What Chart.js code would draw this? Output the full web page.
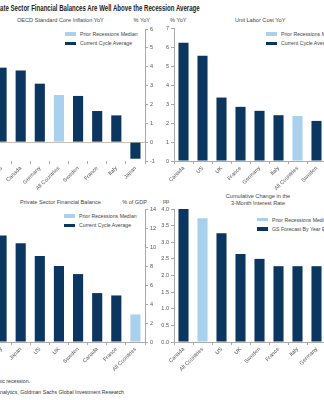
<!DOCTYPE html>
<html>
<head>
<meta charset="utf-8">
<script src="https://cdn.jsdelivr.net/npm/chart.js@4"></script>
<style>
body{margin:0;width:324px;height:400px;overflow:hidden;position:relative;background:#fff;font-family:"Liberation Sans",Arial,sans-serif;color:#333}
canvas{position:absolute}
.t{position:absolute;white-space:nowrap;font-size:5.6px;line-height:6.5px;color:#444}
.lg{position:absolute;white-space:nowrap;font-size:5.2px;line-height:6px;color:#444}
.title{position:absolute;white-space:nowrap;font-family:"Liberation Sans",Arial,sans-serif;font-weight:bold;font-size:9px;line-height:10px;color:#222;transform:scaleX(0.675);transform-origin:right center}
.box{position:absolute;width:11px;height:3.5px}
.foot{position:absolute;white-space:nowrap;font-size:5.2px;line-height:6px;color:#333}
</style>
</head>
<body>

<div class="title" style="right:124px;top:3px">Private Sector Financial Balances Are Well Above the Recession Average</div>

<div class="t" style="left:17px;top:17px">OECD Standard Core Inflation YoY</div>
<div class="t" style="right:174px;top:17px">% YoY</div>
<div class="t" style="left:170px;top:17px">% YoY</div>
<div class="t" style="left:235px;top:17px">Unit Labor Cost YoY</div>
<div class="t" style="left:20px;top:198.5px">Private Sector Financial Balance</div>
<div class="t" style="right:177px;top:198.5px">% of GDP</div>
<div class="t" style="left:217px;top:193px;width:82px;text-align:center">Cumulative Change in the<br>3-Month Interest Rate</div>
<div class="t" style="left:163px;top:198px">pp</div>

<div id="legA"></div>
<div id="legB"></div>
<div id="legC"></div>
<div id="legD"></div>

<canvas id="chartA" width="205" height="171" style="left:-40px;top:20px"></canvas>
<canvas id="chartB" width="206" height="172" style="left:150px;top:19px"></canvas>
<canvas id="chartC" width="205" height="172" style="left:-40px;top:200px"></canvas>
<canvas id="chartD" width="206" height="172" style="left:150px;top:200px"></canvas>

<div class="foot" style="right:294px;top:378px">economic recession.</div>
<div class="foot" style="right:200px;top:389px">Source: Haver Analytics, Goldman Sachs Global Investment Research</div>

<script>
var darkBlue = "#0b3660";
var lightBlue = "#a9d0ec";
var priorName = "Prior Recessions Median";

// core inflation
var inflLabels = ["US","Canada","Germany","All Countries","Sweden","France","Italy","Japan"];
var inflPrior = [null,null,null,2.5,null,null,null,null];
var inflCurrent = [3.95,3.8,3.1,null,2.45,1.65,1.42,-0.88];

// unit labor cost
var ulcLabels = ["Canada","US","UK","France","Germany","Italy","All Countries","Sweden"];
var ulcPrior = [null,null,null,null,null,null,2.37,null];
var ulcCurrent = [6.22,5.54,3.34,2.85,2.64,2.41,null,2.11];

// private sector financial balance
var pfbLabels = ["Italy","Japan","US","UK","Sweden","Canada","France","All Countries"];
var pfbPrior = [null,null,null,null,null,null,null,2.9];
var pfbCurrent = [11.2,10.4,9.05,8.0,7.15,5.15,4.9,null];

// 3m rate change
var rateLabels = ["Canada","All Countries","US","UK","Sweden","France","Italy","Germany"];
var ratePrior = [null,3.72,null,null,null,null,null,null];
var rateForecast = [4.0,null,3.27,2.65,2.5,2.28,2.28,2.28];

function makeLegend(id, x, y, names){
  var el = document.getElementById(id);
  var cols = [lightBlue, darkBlue];
  var html = "";
  for(var i=0;i<names.length;i++){
    var yy = y + i*9.3;
    html += '<div class="box" style="left:'+x+'px;top:'+yy+'px;background:'+cols[i]+'"></div>';
    html += '<div class="lg" style="left:'+(x+15)+'px;top:'+(yy-1.2)+'px">'+names[i]+'</div>';
  }
  el.innerHTML = html;
}

function barChart(id, labels, prior, current, currentName, cfg){
  var ctx = document.getElementById(id);
  var tickFont = {family:"'Liberation Sans', Arial, sans-serif", size:5.5};
  return new Chart(ctx,{
    type:'bar',
    data:{
      labels:labels,
      datasets:[{
        label:priorName,
        data:prior,
        backgroundColor:lightBlue,
        grouped:false,
        barPercentage:0.53,
        categoryPercentage:1
      },{
        label:currentName,
        data:current,
        backgroundColor:darkBlue,
        grouped:false,
        barPercentage:0.53,
        categoryPercentage:1
      }]
    },
    options:{
      responsive:false,
      animation:false,
      devicePixelRatio:1,
      layout:{padding:cfg.pad},
      plugins:{legend:{display:false},tooltip:{enabled:false}},
      scales:{
        x:{
          afterFit:function(s){ s.height = 30; },
          border:{display:cfg.xBorder,color:'#aaa'},
          grid:{drawOnChartArea:false,tickLength:3,color:'#aaa',offset:true},
          ticks:{font:tickFont,color:'#555',minRotation:45,maxRotation:45,autoSkip:false,padding:1}
        },
        y:{
          position:cfg.yPos,
          min:cfg.min,
          max:cfg.max,
          afterFit:function(s){ s.width = cfg.yWidth; },
          border:{color:'#aaa'},
          grid:{
            drawOnChartArea:true,
            tickLength:3,
            tickColor:'#aaa',
            color:function(c){ return (cfg.min<0 && c.tick && c.tick.value===0) ? '#c8c0b4' : 'rgba(0,0,0,0)'; }
          },
          ticks:{
            stepSize:cfg.step,
            font:tickFont,
            color:'#555',
            padding:2,
            callback:function(v){ return cfg.dec ? v.toFixed(cfg.dec) : v; }
          }
        }
      }
    }
  });
}

barChart("chartA", inflLabels, inflPrior, inflCurrent, "Current Cycle Average",
  {pad:{left:32,top:9,right:0,bottom:0}, yPos:'right', yWidth:20, min:-1, max:6, step:1, xBorder:false});
barChart("chartB", ulcLabels, ulcPrior, ulcCurrent, "Current Cycle Average",
  {pad:{left:0,top:9,right:30,bottom:0}, yPos:'left', yWidth:24, min:0, max:7, step:1, xBorder:true});
barChart("chartC", pfbLabels, pfbPrior, pfbCurrent, "Current Cycle Average",
  {pad:{left:32,top:9,right:0,bottom:0}, yPos:'right', yWidth:20, min:0, max:14, step:2, xBorder:true});
barChart("chartD", rateLabels, ratePrior, rateForecast, "GS Forecast By Year End",
  {pad:{left:0,top:9,right:30,bottom:0}, yPos:'left', yWidth:24, min:0, max:4, step:0.5, dec:1, xBorder:true});

makeLegend("legA", 65, 32.3, [priorName, "Current Cycle Average"]);
makeLegend("legB", 266, 32.3, [priorName, "Current Cycle Average"]);
makeLegend("legC", 64, 214.3, [priorName, "Current Cycle Average"]);
makeLegend("legD", 257, 217.7, [priorName, "GS Forecast By Year End"]);
</script>
</body>
</html>
